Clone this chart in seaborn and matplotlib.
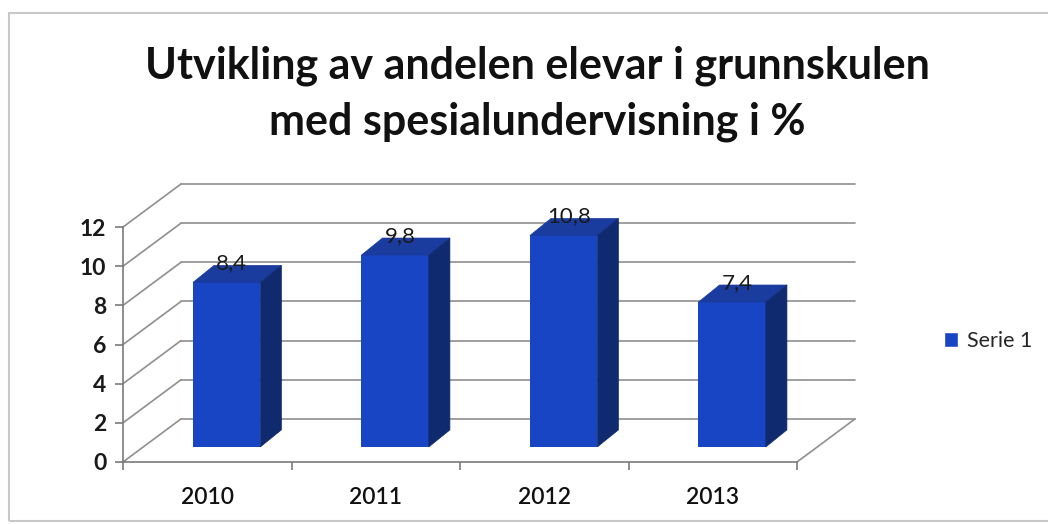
import numpy as np
import pandas as pd
import matplotlib
matplotlib.use("Agg")
import matplotlib.pyplot as plt
from matplotlib.patches import Polygon, Patch, Rectangle
import seaborn as sns

# data
years = ["2010", "2011", "2012", "2013"]
share = [8.4, 9.8, 10.8, 7.4]
series_name = "Serie 1"
title_lines = ["Utvikling av andelen elevar i grunnskulen",
               "med spesialundervisning i %"]
y_ticks = [0, 2, 4, 6, 8, 10, 12]

FRONT = "#1845c4"
TOP = "#1a3c9e"
SIDE = "#0f2a6e"
GRID = "#8f8f8f"

# pseudo 3d offsets in data units
WALL_DX, WALL_DY = 0.344, 2.2     # back wall
BAR_DX, BAR_DY = 0.115, 0.77      # bar front face shift
DEP_DX, DEP_DY = 0.125, 0.87      # bar depth

sns.set_style("white")
plt.rcParams["font.family"] = ["Lato", "DejaVu Sans"]

df = pd.DataFrame({"year": years, "share": share})

W, H = 1048, 524
fig = plt.figure(figsize=(W / 100, H / 100), dpi=100)
ax = fig.add_axes([123 / W, (H - 462) / H, (855 - 123) / W, (462 - 184) / H])

sns.barplot(data=df, x="year", y="share", color=FRONT, width=0.4,
            saturation=1, ax=ax, zorder=3, linewidth=0)

ax.set_xlim(-0.5, 3.5 + WALL_DX)
ax.set_ylim(0, 12 + WALL_DY)

# back wall grid + side wall diagonals
for v in y_ticks:
    ax.plot([-0.5 + WALL_DX, 3.5 + WALL_DX], [v + WALL_DY, v + WALL_DY],
            color=GRID, lw=1.2, zorder=1, clip_on=False)
    ax.plot([-0.5, -0.5 + WALL_DX], [v, v + WALL_DY],
            color=GRID, lw=1.2, zorder=1, clip_on=False)
ax.plot([3.5, 3.5 + WALL_DX], [0, WALL_DY], color=GRID, lw=1.2, zorder=1,
        clip_on=False)

# extrude bars
for p, val in zip(ax.patches, share):
    p.set_x(p.get_x() + BAR_DX)
    p.set_y(BAR_DY)
    p.set_linewidth(0)
    x0, y0 = p.get_x(), p.get_y()
    x1, y1 = x0 + p.get_width(), y0 + p.get_height()
    top = Polygon([(x0, y1), (x1, y1), (x1 + DEP_DX, y1 + DEP_DY),
                   (x0 + DEP_DX, y1 + DEP_DY)], closed=True,
                  facecolor=TOP, edgecolor=TOP, lw=0.5, zorder=3)
    side = Polygon([(x1, y0), (x1 + DEP_DX, y0 + DEP_DY),
                    (x1 + DEP_DX, y1 + DEP_DY), (x1, y1)], closed=True,
                   facecolor=SIDE, edgecolor=SIDE, lw=0.5, zorder=3)
    ax.add_patch(top)
    ax.add_patch(side)
    ax.text(x0 + p.get_width() / 2 + 0.03, y1 + DEP_DY - 0.4,
            f"{val:.1f}".replace(".", ","), ha="center", va="bottom",
            fontsize=16, color="#1a1a1a", zorder=4)

# axes
sns.despine(ax=ax, top=True, right=True)
ax.spines["left"].set_bounds(0, 12)
ax.spines["bottom"].set_bounds(-0.5, 3.5)
for s in ["left", "bottom"]:
    ax.spines[s].set_color("#7a7a7a")
    ax.spines[s].set_linewidth(1.2)
ax.set_yticks(y_ticks)
ax.set_yticklabels([str(t) for t in y_ticks], fontsize=16.5, fontweight="bold",
                   color="#1a1a1a")
ax.tick_params(axis="y", length=6, width=1.2, color="#7a7a7a", pad=6, left=True)
ax.set_xticks(range(len(years)))
ax.set_xticklabels(years, fontsize=16.5, fontweight="semibold", color="#111111")
ax.tick_params(axis="x", length=0, pad=18)
ax.set_xticks([-0.5, 0.5, 1.5, 2.5, 3.5], minor=True)
ax.tick_params(axis="x", which="minor", length=6, width=1.2, color="#7a7a7a",
               bottom=True)
ax.set_xlabel("")
ax.set_ylabel("")

# title
fig.text(537 / W, 1 - 78 / H, title_lines[0], ha="center", va="baseline",
         fontsize=31, fontweight="bold", color="#111111")
fig.text(537 / W, 1 - 134 / H, title_lines[1], ha="center", va="baseline",
         fontsize=31, fontweight="bold", color="#111111")

# legend
fig.legend(handles=[Patch(facecolor=FRONT, label=series_name)],
           loc="center left", bbox_to_anchor=(944 / W, 1 - 341 / H),
           frameon=False, fontsize=15.5, handlelength=0.65, handleheight=0.65,
           handletextpad=0.4, borderpad=0, borderaxespad=0)

# chart frame
fig.patches.append(Rectangle((9 / W, 3 / H), 1.2, 1 - 16 / H, fill=False,
                             edgecolor="#c8c8c8", lw=1.5,
                             transform=fig.transFigure, figure=fig))

fig.savefig("out.png", dpi=100)
